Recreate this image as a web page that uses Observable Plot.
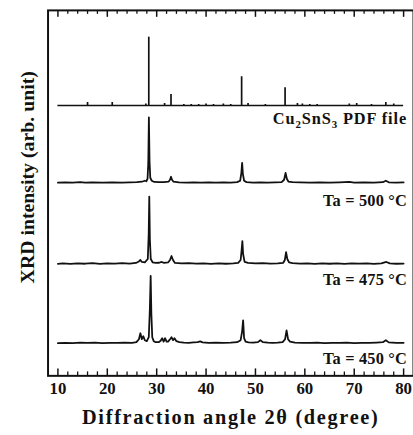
<!DOCTYPE html>
<html><head><meta charset="utf-8">
<script src="https://cdn.jsdelivr.net/npm/d3@7"></script>
<script src="https://cdn.jsdelivr.net/npm/@observablehq/plot@0.6"></script>
<style>
html,body{margin:0;padding:0;background:#fff;overflow:hidden;}
</style></head><body><div id="chart"></div>
<script>
// ---- data ----
const majorTicks = [10, 20, 30, 40, 50, 60, 70, 80];
const minorTicks = [12,14,16,18,22,24,26,28,32,34,36,38,42,44,46,48,52,54,56,58,62,64,66,68,72,74,76,78];
const scanStart = 10, scanEnd = 80;

const seriesNames = ["Cu₂SnS₃ PDF file", "Ta = 500 °C", "Ta = 475 °C", "Ta = 450 °C"];
const xTitle = "Diffraction angle 2θ (degree)";
const yTitle = "XRD intensity (arb. unit)";

// reference pattern (stick lines)
const pdfAngle     = [16.0, 21.0, 27.8, 28.4, 31.6, 32.9, 35.5, 37.0, 38.5, 40.0, 41.5, 43.5, 45.0, 47.2, 48.5, 52.0, 56.0, 58.5, 59.5, 61.0, 62.5, 69.0, 70.5, 73.5, 76.4, 78.0];
const pdfIntensity = [3,    3,    1.5,  69,   2,    11,   1,    1,    1,    1.5,  1,    1.5,  1,    29,   2,    1,    18,   2,    1.5,  1,    1,    1.5,  2,    1,    3,    1.5];

// Ta = 500 °C
const ta500Angle = [10,11.5,13,14.5,15.5,17,19,21,23,24.5,26,27,27.6,27.9,28.15,28.3,28.42,28.55,28.7,29,29.5,30.5,31.5,32.4,32.7,32.9,33.1,33.4,34.5,36,37.5,39,40.5,42,43.5,45,46.3,46.9,47.15,47.3,47.45,47.7,48.2,49.5,51,52.5,54,55.3,55.8,56.1,56.35,56.7,57.5,59,61,63,65,67,69,70,72,74,75.8,76.4,77,78.5,80];
const ta500Int   = [0,0.3,0,0.6,0,0.4,0,0.3,0,0.4,0.5,1,2,1.5,4,20,66,22,5,2,0.8,0.5,0.7,1,3,6,3,1,0.3,0,0.4,0,0.3,0,0.3,0,0.6,2,10,20,9,2,0.6,0.2,0.4,0,0.3,0.6,3,10,4,1,0.6,0.3,0,0.3,0,0.3,0.8,0,0.3,0,0.5,2,0.4,0,0.3];

// Ta = 475 °C
const ta475Angle = [10,11,12.5,14,15.5,17,18.5,20,21.5,23,24.5,25.8,26.4,26.7,27.0,27.6,28.2,28.38,28.5,28.62,28.8,29.2,29.8,30.5,31.0,31.5,32.3,32.7,33.0,33.3,33.7,35,36.5,38,39.5,41,42.5,44,45.5,46.5,47.0,47.2,47.35,47.5,47.8,48.5,50,51.5,53,54.5,55.6,55.95,56.2,56.45,56.8,57.5,59,60.5,62,63.5,65,66.5,68,69.5,71,72.5,74,75.5,76.5,77.2,78.5,80];
const ta475Int   = [0,0.5,0,0.6,0.2,0.8,0,0.5,0.3,0.8,0.4,1,2.5,4,2,1.5,5,30,68,25,5,1.5,1,1.2,2,1,1.5,4,8,4,1,0.5,0.8,0.3,0.6,0,0.5,0.2,0.6,1,4,14,23,10,2,1,0.5,0.8,0.3,0.6,1,4,12,5,1.5,0.8,0.4,0.6,0,0.5,0.2,0.6,0,0.5,0.3,0.6,0,0.6,2,0.6,0.2,0.4];

// Ta = 450 °C
const ta450Angle = [10,11.5,13,14.5,16,17.5,19,20.5,22,23.5,25,25.9,26.4,26.7,27.0,27.3,27.6,28.0,28.4,28.62,28.78,28.92,29.1,29.4,29.8,30.4,30.8,31.1,31.4,31.7,32.0,32.3,32.7,33.0,33.3,33.6,34.0,34.6,35.5,36.5,37.5,38.3,38.8,39.3,40.5,42,43.5,45,46.3,47.0,47.3,47.5,47.7,48.0,48.6,49.5,50.5,51.0,51.5,52.5,53.5,54.5,55.5,56.0,56.3,56.6,57.0,58,59.5,61,62.5,64,65.5,67,68.5,70,71.5,73,74.5,75.8,76.4,77,78.5,80];
const ta450Int   = [0,0.4,0,0.5,0.2,0.6,0,0.4,0.2,0.6,0.3,1,4,10,4,7,3,2,6,35,68,30,6,2,1,1,2.5,5,1.5,5,1.5,1.5,4,6,3,5,2,1,0.6,0.4,0.7,1,1.8,0.8,0.4,0.6,0.2,0.5,1,3,12,23,5,1.5,0.8,0.6,1,3,1,0.5,0.3,0.5,1,4,13,4,1.5,0.6,0.4,0.2,0.5,0,0.4,0.2,0.5,0,0.4,0.2,0.6,1,3,0.8,0.3,0.4];

// ---- layout (stack offsets, label drops in px-like units) ----
const stackOffset = [273, 195, 113, 33];
const labelDrop   = [13, 18, 16, 16];

const measured = [
  {name: seriesNames[1], offset: stackOffset[1], angle: ta500Angle, inten: ta500Int},
  {name: seriesNames[2], offset: stackOffset[2], angle: ta475Angle, inten: ta475Int},
  {name: seriesNames[3], offset: stackOffset[3], angle: ta450Angle, inten: ta450Int}
];
const rows = measured.flatMap(s => s.angle.map((a, i) => ({series: s.name, angle: a, value: s.offset + s.inten[i]})));
const sticks = pdfAngle.map((a, i) => ({angle: a, base: stackOffset[0], top: stackOffset[0] + pdfIntensity[i]}));
const labels = seriesNames.map((n, i) => ({text: n, y: stackOffset[i] - labelDrop[i]}));

const font = "'Liberation Serif', 'Times New Roman', serif";
const ink = "#111";

const plot = Plot.plot({
  width: 417, height: 435,
  marginTop: 10, marginBottom: 56, marginLeft: 48, marginRight: 0,
  x: {domain: [8, 82], axis: null},
  y: {domain: [0, 369], axis: null},
  style: {fontFamily: font, background: "#fff", color: ink},
  marks: [
    // tick marks (inward, bottom and top)
    Plot.ruleX(majorTicks, {x: d => d, y1: 0, y2: 7, stroke: ink, strokeWidth: 1.5}),
    Plot.ruleX(minorTicks, {x: d => d, y1: 0, y2: 4, stroke: ink, strokeWidth: 1.3}),
    Plot.ruleX(majorTicks, {x: d => d, y1: 362, y2: 369, stroke: ink, strokeWidth: 1.5}),
    Plot.ruleX(minorTicks, {x: d => d, y1: 365, y2: 369, stroke: ink, strokeWidth: 1.3}),
    // PDF sticks
    Plot.ruleY([stackOffset[0]], {x1: scanStart, x2: scanEnd, stroke: ink, strokeWidth: 1.7}),
    Plot.ruleX(sticks, {x: "angle", y1: "base", y2: "top", stroke: ink, strokeWidth: 1.7}),
    // measured patterns
    Plot.line(rows, {x: "angle", y: "value", z: "series", stroke: ink, strokeWidth: 1.8}),
    // series labels
    Plot.text(labels, {x: 80.7, y: "y", text: "text", textAnchor: "end", lineAnchor: "middle", fontSize: 16.5, fontWeight: "bold", fill: ink}),
    // tick labels
    Plot.text(majorTicks, {x: d => d, frameAnchor: "bottom", lineAnchor: "middle", dy: 13, text: d => String(d), fontSize: 17, fontWeight: "bold", fill: ink}),
    // axis titles
    Plot.text([xTitle], {frameAnchor: "bottom", lineAnchor: "middle", textAnchor: "middle", dy: 42, fontSize: 20.5, fontWeight: "bold", fill: ink}),
    Plot.text([yTitle], {frameAnchor: "left", lineAnchor: "middle", textAnchor: "middle", rotate: -90, dx: -21, dy: -16, fontSize: 20, fontWeight: "bold", fill: ink}),
    Plot.frame({stroke: ink, strokeWidth: 2})
  ]
});
document.getElementById("chart").appendChild(plot);

// letter spacing to match the wide typeface of the original
plot.querySelectorAll("text").forEach(t => {
  const s = t.textContent;
  if (s === xTitle) t.style.letterSpacing = "1.7px";
  else if (s === yTitle) t.style.letterSpacing = "0px";
  else if (seriesNames.includes(s)) t.style.letterSpacing = s.startsWith("Cu") ? "0.9px" : "0.2px";
});

// render subscripts of the formula as real sub-text
const NS = "http://www.w3.org/2000/svg";
const subMap = {"₂": "2", "₃": "3"};
plot.querySelectorAll("text").forEach(t => {
  const s = t.textContent;
  if (!/[₂₃]/.test(s)) return;
  t.textContent = "";
  let cur = document.createElementNS(NS, "tspan");
  t.appendChild(cur);
  for (const ch of s) {
    if (subMap[ch]) {
      const n = document.createElementNS(NS, "tspan");
      n.textContent = subMap[ch];
      n.setAttribute("font-size", "11");
      n.setAttribute("dy", "4");
      t.appendChild(n);
      cur = document.createElementNS(NS, "tspan");
      cur.setAttribute("dy", "-4");
      t.appendChild(cur);
    } else {
      cur.textContent += ch;
    }
  }
});
</script></body></html>
